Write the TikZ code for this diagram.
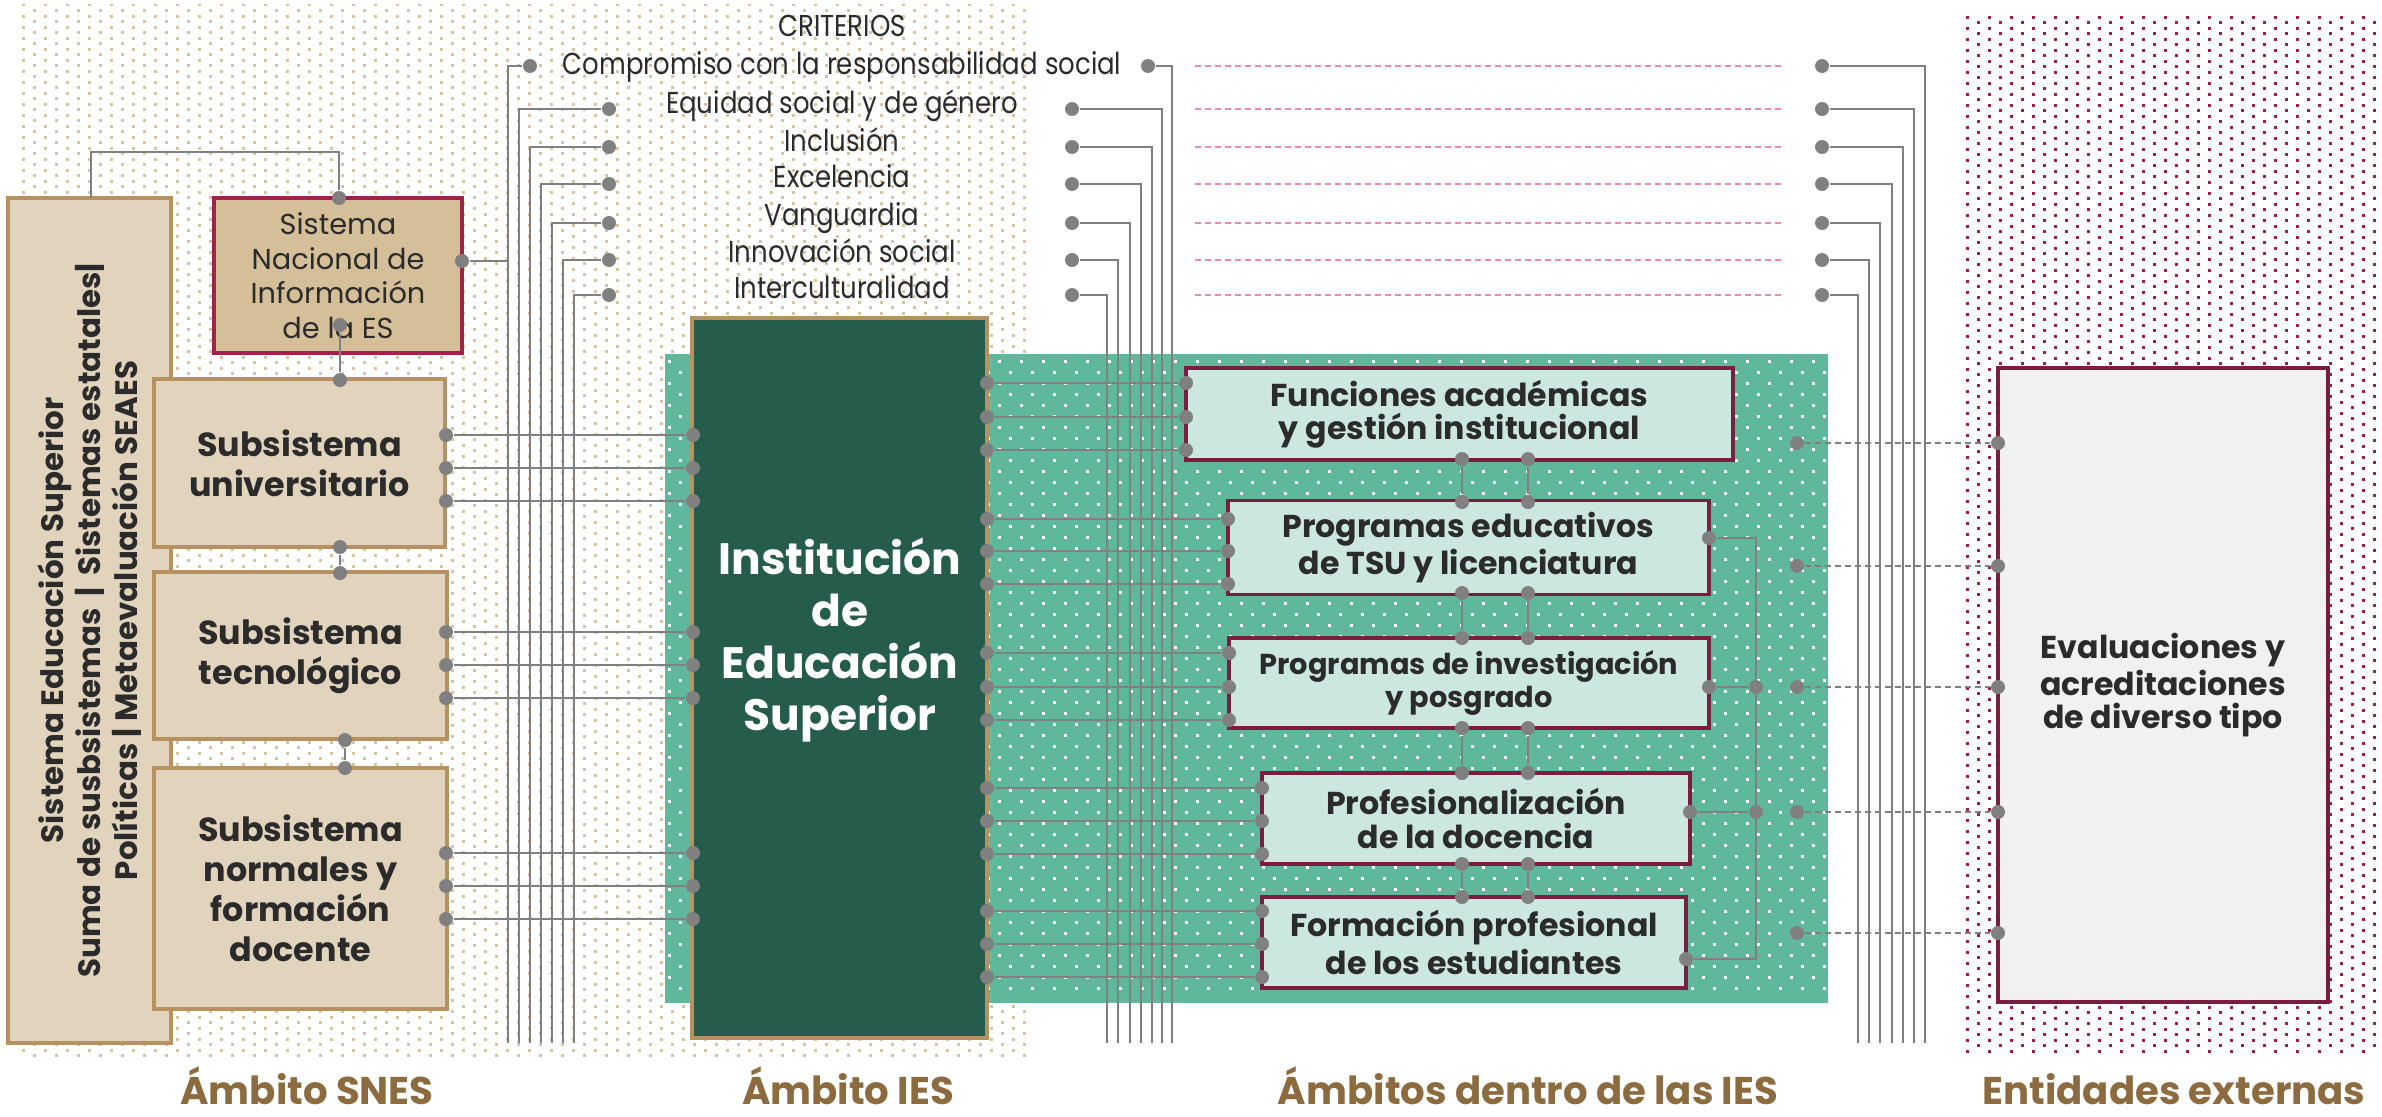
\documentclass[tikz,border=0pt]{standalone}
\usepackage{fontspec}
\setmainfont{Poppins}
\newfontfamily\thinfont{Poppins}[FakeStretch=0.86]
\definecolor{beigedot}{HTML}{D8C3A2}
\definecolor{sandfill}{HTML}{E1D3BC}
\definecolor{sandline}{HTML}{B89160}
\definecolor{snifill}{HTML}{D4BF99}
\definecolor{crimson}{HTML}{A3224A}
\definecolor{wine}{HTML}{7B1D3D}
\definecolor{tealbg}{HTML}{5FB89C}
\definecolor{iesgreen}{HTML}{265C4B}
\definecolor{mint}{HTML}{CCE7DF}
\definecolor{wiregray}{HTML}{808080}
\definecolor{pinkdash}{HTML}{EC8AAA}
\definecolor{reddot}{HTML}{A11E48}
\definecolor{labelbrown}{HTML}{8C6B3E}
\definecolor{ink}{HTML}{2B2B2B}
\definecolor{evalfill}{HTML}{F1F1F1}
\begin{document}
\begin{tikzpicture}[x=0.1mm, y=-0.1mm,
	dot/.style={circle, fill=wiregray, inner sep=0pt, minimum size=1.4mm},
	bus/.style={draw=wiregray, line width=0.6pt},
	link/.style={draw=wiregray, line width=0.45pt},
	dotrow/.style={line width=0.3mm, dash pattern=on 0.3mm off 1.9mm},
	sandbox/.style={rectangle, draw=sandline, fill=sandfill, line width=0.9pt, text=ink, align=center, font=\bfseries\fontsize{9.5}{11.4}\selectfont},
	unitbox/.style={rectangle, draw=wine, fill=mint, line width=0.9pt, text=ink, align=center, font=\bfseries\fontsize{9}{9.5}\selectfont},
	crit/.style={text=ink, anchor=base, font=\thinfont\fontsize{8.6}{10}\selectfont},
	ambit/.style={text=labelbrown, anchor=base, font=\bfseries\fontsize{11}{13}\selectfont}]
	\useasboundingbox (0,0) rectangle (2382,1116);

	% dotted grounds
	\foreach \k in {0,...,191} {
		\pgfmathsetmacro\yy{5+5.5*\k}
		\pgfmathsetmacro\ph{1.1*mod(\k,2)}
		\draw[dotrow, beigedot, dash phase=\ph mm] (22,\yy) -- (1030,\yy);
	}
	\foreach \k in {0,...,188} {
		\pgfmathsetmacro\yy{17+5.5*\k}
		\pgfmathsetmacro\ph{1.1*mod(\k,2)}
		\draw[dotrow, reddot, dash phase=\ph mm] (1966,\yy) -- (2382,\yy);
	}
	\fill[tealbg] (665,354) rectangle (1828,1003);
	\foreach \k in {0,...,57} {
		\pgfmathsetmacro\yy{361+11*\k}
		\pgfmathsetmacro\ph{1.1*mod(\k,2)}
		\draw[dotrow, white, dash phase=\ph mm] (668,\yy) -- (1828,\yy);
	}

	% boxes
	\node (ses) at (89.5,620.5) [sandbox, rotate=90, minimum width=84.5mm, minimum height=16.3mm, font=\bfseries\fontsize{8.8}{10.6}\selectfont]
		{Sistema Educación Superior\\Suma de susbsistemas \,|\, Sistemas estatales|\\Políticas | Metaevaluación SEAES};
	\node (sni) at (338,275.5) [rectangle, draw=crimson, fill=snifill, line width=0.9pt, minimum width=24.8mm, minimum height=15.5mm, text=ink, align=center, font=\fontsize{8.2}{9.8}\selectfont]
		{Sistema\\Nacional de\\Información\\de la ES};
	\node (subU) at (299.5,463) [sandbox, minimum width=29.1mm, minimum height=16.8mm] {Subsistema\\universitario};
	\node (subT) at (300.5,655.5) [sandbox, minimum width=29.3mm, minimum height=16.7mm] {Subsistema\\tecnológico};
	\node (subN) at (300.5,888.5) [sandbox, minimum width=29.3mm, minimum height=24.1mm] {Subsistema\\normales y\\formación\\docente};
	\node (ies) at (839.5,678) [rectangle, draw=sandline, fill=iesgreen, line width=0.9pt, minimum width=29.5mm, minimum height=72mm] {};
	\node (iesname) at (840,640) [text=white, align=center, font=\bfseries\fontsize{12.5}{14.8}\selectfont] {Institución\\de\\Educación\\Superior};
	\node (funA) at (1459.5,414) [unitbox, minimum width=54.7mm, minimum height=9mm] {Funciones académicas\\y gestión institucional};
	\node (progE) at (1468.5,547.5) [unitbox, minimum width=48.1mm, minimum height=9.1mm] {Programas educativos\\de TSU y licenciatura};
	\node (progI) at (1469,683) [unitbox, minimum width=48mm, minimum height=9mm, font=\bfseries\fontsize{8.2}{9.5}\selectfont] {Programas de investigación\\y posgrado};
	\node (prof) at (1476,818.5) [unitbox, minimum width=42.8mm, minimum height=9.1mm] {Profesionalización\\de la docencia};
	\node (form) at (1474,942.5) [unitbox, minimum width=42.4mm, minimum height=9.1mm] {Formación profesional\\de los estudiantes};
	\node (eval) at (2163,685) [rectangle, draw=wine, fill=evalfill, line width=0.9pt, minimum width=33mm, minimum height=63.4mm, text=ink, align=center, font=\bfseries\fontsize{9}{9.4}\selectfont]
		{Evaluaciones y\\acreditaciones\\de diverso tipo};

	% criterios
	\node (critHead) at (842,37) [crit] {CRITERIOS};
	\node (crit1) at (842,75) [crit] {Compromiso con la responsabilidad social};
	\node (crit2) at (842,113) [crit] {Equidad social y de género};
	\node (crit3) at (842,151) [crit] {Inclusión};
	\node (crit4) at (842,187) [crit] {Excelencia};
	\node (crit5) at (842,225) [crit] {Vanguardia};
	\node (crit6) at (842,262) [crit] {Innovación social};
	\node (crit7) at (842,298) [crit] {Interculturalidad};

	\node (lc1) at (530,66) [dot] {};
	\node (mc1) at (1148,66) [dot] {};
	\foreach \y [count=\i from 2] in {109,147,184,223,260,295} {
		\node (lc\i) at (609,\y) [dot] {};
		\node (mc\i) at (1072,\y) [dot] {};
	}
	\foreach \y [count=\i] in {66,109,147,184,223,260,295}
		\node (rc\i) at (1822,\y) [dot] {};

	\foreach \i/\x in {1/508,2/519,3/530,4/541,5/552,6/563,7/574} {
		\coordinate (lb\i) at (\x,1043);
		\draw[bus] (lc\i) -| (lb\i);
	}
	\foreach \i/\x in {1/1172,2/1162,3/1152,4/1141,5/1130,6/1118,7/1107} {
		\coordinate (mb\i) at (\x,1043);
		\draw[bus] (mc\i) -| (mb\i);
	}
	\foreach \i/\x in {1/1925,2/1914,3/1903,4/1892,5/1880,6/1869,7/1858} {
		\coordinate (rb\i) at (\x,1043);
		\draw[bus] (rc\i) -| (rb\i);
	}
	\draw[pinkdash, line width=0.45pt, dash pattern=on 0.55mm off 0.45mm, shorten <=4.7mm, shorten >=4.1mm] (mc1.center) -- (rc1.center);
	\foreach \i in {2,...,7}
		\draw[pinkdash, line width=0.45pt, dash pattern=on 0.55mm off 0.45mm, shorten <=12.3mm, shorten >=4.1mm] (mc\i.center) -- (rc\i.center);

	% ambito SNES
	\coordinate (sesTop) at (91,198);
	\node (sniTop) at (339,198) [dot] {};
	\draw[link] (sesTop) -- ++(0,-46) -| (sniTop);
	\node (sniR) at (462,261) [dot] {};
	\coordinate (sniJoin) at (508,261);
	\draw[link] (sniR) -- (sniJoin);
	\node (sniB) at (340,325) [dot] {};
	\node (uTop) at (340,380) [dot] {};
	\draw[link] (sniB) -- (uTop);
	\node (uBot) at (340,547) [dot] {};
	\node (tTop) at (340,573) [dot] {};
	\draw[link] (uBot) -- (tTop);
	\node (tBot) at (345,740) [dot] {};
	\node (nTop) at (345,768) [dot] {};
	\draw[link] (tBot) -- (nTop);
	\foreach \y [count=\i] in {435,468,501,632,665,698,853,886,919} {
		\node (sR\i) at (446,\y) [dot] {};
		\node (iL\i) at (693,\y) [dot] {};
		\draw[link] (sR\i) -- (iL\i);
	}

	% ambitos dentro de las IES
	\foreach \y/\x [count=\i] in {383/1186,417/1186,450/1186,519/1228,551/1228,584/1228,653/1229,687/1229,720/1229,788/1262,821/1262,854/1262,911/1262,944/1262,977/1262} {
		\node (iR\i) at (987,\y) [dot] {};
		\node (uL\i) at (\x,\y) [dot] {};
		\draw[link] (iR\i) -- (uL\i);
	}
	\foreach \top/\bot [count=\i] in {459/502,593/638,728/773,864/897} {
		\node (va\i) at (1462,\top) [dot] {};
		\node (vb\i) at (1462,\bot) [dot] {};
		\draw[link] (va\i) -- (vb\i);
		\node (wa\i) at (1528,\top) [dot] {};
		\node (wb\i) at (1528,\bot) [dot] {};
		\draw[link] (wa\i) -- (wb\i);
	}
	\node (peR) at (1709,538) [dot] {};
	\node (piR) at (1709,687) [dot] {};
	\node (pfR) at (1690,812) [dot] {};
	\node (fmR) at (1686,959) [dot] {};
	\node (j3) at (1756,687) [dot] {};
	\node (j4) at (1756,812) [dot] {};
	\coordinate (busTop) at (1756,538);
	\draw[link] (peR) -- (busTop) |- (fmR);
	\draw[link] (piR) -- (j3);
	\draw[link] (pfR) -- (j4);

	% entidades externas
	\foreach \y [count=\i] in {443,566,687,812,933} {
		\node (xs\i) at (1797,\y) [dot] {};
		\node (xe\i) at (1998,\y) [dot] {};
		\draw[link, dash pattern=on 0.6mm off 0.4mm] (xs\i) -- (xe\i);
	}

	\node (ambSnes) at (307,1104) [ambit] {Ámbito SNES};
	\node (ambIes) at (848,1104) [ambit] {Ámbito IES};
	\node (ambIn) at (1528,1104) [ambit] {Ámbitos dentro de las IES};
	\node (ambExt) at (2174,1104) [ambit] {Entidades externas};
\end{tikzpicture}
\end{document}
